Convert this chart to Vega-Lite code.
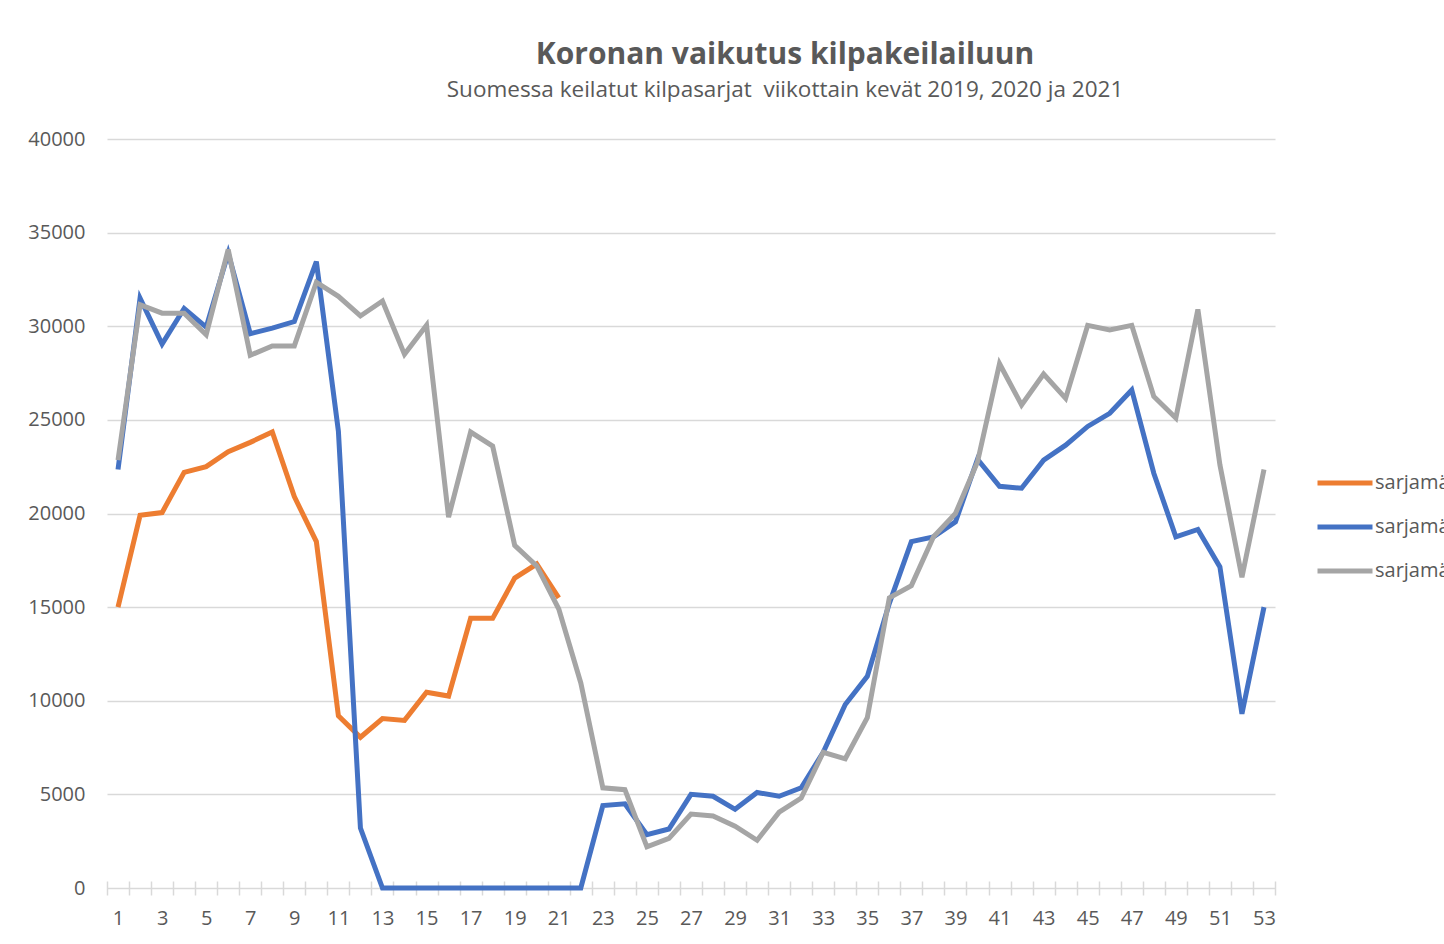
{
  "$schema": "https://vega.github.io/schema/vega-lite/v6.json",
  "autosize": {"type": "none"},
  "padding": {"left": 107, "top": 139, "right": 169, "bottom": 56},
  "width": 1168,
  "height": 749,
  "background": "white",
  "title": {
    "text": "Koronan vaikutus kilpakeilailuun",
    "subtitle": "Suomessa keilatut kilpasarjat \u00a0viikottain kevät 2019, 2020 ja 2021",
    "anchor": "middle",
    "dx": 94,
    "offset": 28,
    "font": "Open Sans",
    "fontSize": 30,
    "fontWeight": "bold",
    "color": "#595959",
    "subtitleFont": "Open Sans",
    "subtitleFontSize": 22.5,
    "subtitleColor": "#595959",
    "subtitlePadding": 9
  },
  "data": {"values": [
    {"week":1,"series":"sarjamäärä 2021","value":15000},{"week":2,"series":"sarjamäärä 2021","value":19900},{"week":3,"series":"sarjamäärä 2021","value":20050},{"week":4,"series":"sarjamäärä 2021","value":22200},{"week":5,"series":"sarjamäärä 2021","value":22500},{"week":6,"series":"sarjamäärä 2021","value":23300},{"week":7,"series":"sarjamäärä 2021","value":23800},{"week":8,"series":"sarjamäärä 2021","value":24350},{"week":9,"series":"sarjamäärä 2021","value":20900},{"week":10,"series":"sarjamäärä 2021","value":18500},{"week":11,"series":"sarjamäärä 2021","value":9200},{"week":12,"series":"sarjamäärä 2021","value":8050},{"week":13,"series":"sarjamäärä 2021","value":9050},{"week":14,"series":"sarjamäärä 2021","value":8950},{"week":15,"series":"sarjamäärä 2021","value":10450},{"week":16,"series":"sarjamäärä 2021","value":10250},{"week":17,"series":"sarjamäärä 2021","value":14400},{"week":18,"series":"sarjamäärä 2021","value":14400},{"week":19,"series":"sarjamäärä 2021","value":16550},{"week":20,"series":"sarjamäärä 2021","value":17300},{"week":21,"series":"sarjamäärä 2021","value":15500},
    {"week":1,"series":"sarjamäärä 2020","value":22350},{"week":2,"series":"sarjamäärä 2020","value":31500},{"week":3,"series":"sarjamäärä 2020","value":29050},{"week":4,"series":"sarjamäärä 2020","value":30950},{"week":5,"series":"sarjamäärä 2020","value":29950},{"week":6,"series":"sarjamäärä 2020","value":33900},{"week":7,"series":"sarjamäärä 2020","value":29600},{"week":8,"series":"sarjamäärä 2020","value":29900},{"week":9,"series":"sarjamäärä 2020","value":30250},{"week":10,"series":"sarjamäärä 2020","value":33450},{"week":11,"series":"sarjamäärä 2020","value":24400},{"week":12,"series":"sarjamäärä 2020","value":3200},{"week":13,"series":"sarjamäärä 2020","value":0},{"week":14,"series":"sarjamäärä 2020","value":0},{"week":15,"series":"sarjamäärä 2020","value":0},{"week":16,"series":"sarjamäärä 2020","value":0},{"week":17,"series":"sarjamäärä 2020","value":0},{"week":18,"series":"sarjamäärä 2020","value":0},{"week":19,"series":"sarjamäärä 2020","value":0},{"week":20,"series":"sarjamäärä 2020","value":0},{"week":21,"series":"sarjamäärä 2020","value":0},{"week":22,"series":"sarjamäärä 2020","value":0},{"week":23,"series":"sarjamäärä 2020","value":4400},{"week":24,"series":"sarjamäärä 2020","value":4500},{"week":25,"series":"sarjamäärä 2020","value":2850},{"week":26,"series":"sarjamäärä 2020","value":3150},{"week":27,"series":"sarjamäärä 2020","value":5000},{"week":28,"series":"sarjamäärä 2020","value":4900},{"week":29,"series":"sarjamäärä 2020","value":4200},{"week":30,"series":"sarjamäärä 2020","value":5100},{"week":31,"series":"sarjamäärä 2020","value":4900},{"week":32,"series":"sarjamäärä 2020","value":5350},{"week":33,"series":"sarjamäärä 2020","value":7250},{"week":34,"series":"sarjamäärä 2020","value":9800},{"week":35,"series":"sarjamäärä 2020","value":11300},{"week":36,"series":"sarjamäärä 2020","value":15200},{"week":37,"series":"sarjamäärä 2020","value":18500},{"week":38,"series":"sarjamäärä 2020","value":18750},{"week":39,"series":"sarjamäärä 2020","value":19550},{"week":40,"series":"sarjamäärä 2020","value":22900},{"week":41,"series":"sarjamäärä 2020","value":21450},{"week":42,"series":"sarjamäärä 2020","value":21350},{"week":43,"series":"sarjamäärä 2020","value":22850},{"week":44,"series":"sarjamäärä 2020","value":23650},{"week":45,"series":"sarjamäärä 2020","value":24650},{"week":46,"series":"sarjamäärä 2020","value":25350},{"week":47,"series":"sarjamäärä 2020","value":26600},{"week":48,"series":"sarjamäärä 2020","value":22150},{"week":49,"series":"sarjamäärä 2020","value":18750},{"week":50,"series":"sarjamäärä 2020","value":19150},{"week":51,"series":"sarjamäärä 2020","value":17150},{"week":52,"series":"sarjamäärä 2020","value":9300},{"week":53,"series":"sarjamäärä 2020","value":15000},
    {"week":1,"series":"sarjamäärä 2019","value":22850},{"week":2,"series":"sarjamäärä 2019","value":31150},{"week":3,"series":"sarjamäärä 2019","value":30700},{"week":4,"series":"sarjamäärä 2019","value":30700},{"week":5,"series":"sarjamäärä 2019","value":29550},{"week":6,"series":"sarjamäärä 2019","value":34100},{"week":7,"series":"sarjamäärä 2019","value":28450},{"week":8,"series":"sarjamäärä 2019","value":28950},{"week":9,"series":"sarjamäärä 2019","value":28950},{"week":10,"series":"sarjamäärä 2019","value":32350},{"week":11,"series":"sarjamäärä 2019","value":31600},{"week":12,"series":"sarjamäärä 2019","value":30550},{"week":13,"series":"sarjamäärä 2019","value":31350},{"week":14,"series":"sarjamäärä 2019","value":28500},{"week":15,"series":"sarjamäärä 2019","value":30050},{"week":16,"series":"sarjamäärä 2019","value":19800},{"week":17,"series":"sarjamäärä 2019","value":24350},{"week":18,"series":"sarjamäärä 2019","value":23600},{"week":19,"series":"sarjamäärä 2019","value":18300},{"week":20,"series":"sarjamäärä 2019","value":17200},{"week":21,"series":"sarjamäärä 2019","value":14900},{"week":22,"series":"sarjamäärä 2019","value":10950},{"week":23,"series":"sarjamäärä 2019","value":5350},{"week":24,"series":"sarjamäärä 2019","value":5250},{"week":25,"series":"sarjamäärä 2019","value":2200},{"week":26,"series":"sarjamäärä 2019","value":2650},{"week":27,"series":"sarjamäärä 2019","value":3950},{"week":28,"series":"sarjamäärä 2019","value":3850},{"week":29,"series":"sarjamäärä 2019","value":3300},{"week":30,"series":"sarjamäärä 2019","value":2550},{"week":31,"series":"sarjamäärä 2019","value":4050},{"week":32,"series":"sarjamäärä 2019","value":4800},{"week":33,"series":"sarjamäärä 2019","value":7250},{"week":34,"series":"sarjamäärä 2019","value":6900},{"week":35,"series":"sarjamäärä 2019","value":9100},{"week":36,"series":"sarjamäärä 2019","value":15500},{"week":37,"series":"sarjamäärä 2019","value":16150},{"week":38,"series":"sarjamäärä 2019","value":18750},{"week":39,"series":"sarjamäärä 2019","value":20000},{"week":40,"series":"sarjamäärä 2019","value":22750},{"week":41,"series":"sarjamäärä 2019","value":28000},{"week":42,"series":"sarjamäärä 2019","value":25800},{"week":43,"series":"sarjamäärä 2019","value":27450},{"week":44,"series":"sarjamäärä 2019","value":26150},{"week":45,"series":"sarjamäärä 2019","value":30050},{"week":46,"series":"sarjamäärä 2019","value":29800},{"week":47,"series":"sarjamäärä 2019","value":30050},{"week":48,"series":"sarjamäärä 2019","value":26250},{"week":49,"series":"sarjamäärä 2019","value":25100},{"week":50,"series":"sarjamäärä 2019","value":30900},{"week":51,"series":"sarjamäärä 2019","value":22600},{"week":52,"series":"sarjamäärä 2019","value":16600},{"week":53,"series":"sarjamäärä 2019","value":22350}
  ]},
  "mark": {"type": "line", "strokeWidth": 5, "strokeJoin": "miter", "strokeCap": "butt"},
  "encoding": {
    "x": {
      "field": "week", "type": "ordinal", "sort": "ascending",
      "scale": {"paddingInner": 0, "paddingOuter": 0},
      "axis": {
        "title": null, "domain": false, "grid": false,
        "tickBand": "extent", "tickSize": 14, "offset": -7,
        "tickColor": "#D9D9D9", "tickWidth": 1.5,
        "labelAngle": 0, "labelOverlap": false,
        "labelExpr": "datum.value % 2 === 1 ? datum.label : ''",
        "labelFont": "Open Sans", "labelFontSize": 20, "labelColor": "#595959",
        "labelPadding": 13
      }
    },
    "y": {
      "field": "value", "type": "quantitative",
      "scale": {"domain": [0, 40000], "nice": false, "zero": true},
      "axis": {
        "title": null, "domain": false, "ticks": false,
        "values": [0, 5000, 10000, 15000, 20000, 25000, 30000, 35000, 40000],
        "format": "d",
        "grid": true, "gridColor": "#D9D9D9", "gridWidth": 1.5,
        "labelFont": "Open Sans", "labelFontSize": 20, "labelColor": "#595959",
        "labelPadding": 22
      }
    },
    "color": {
      "field": "series", "type": "nominal",
      "scale": {
        "domain": ["sarjamäärä 2021", "sarjamäärä 2020", "sarjamäärä 2019"],
        "range": ["#ED7D31", "#4472C4", "#A5A5A5"]
      },
      "legend": {
        "title": null, "orient": "none", "legendX": 1208, "legendY": 314,
        "symbolType": "stroke", "symbolStrokeWidth": 5, "symbolSize": 3025,
        "labelFont": "Open Sans", "labelFontSize": 20, "labelColor": "#595959",
        "labelOffset": 0, "rowPadding": 4, "labelLimit": 400
      }
    }
  },
  "config": {"view": {"stroke": null}}
}
